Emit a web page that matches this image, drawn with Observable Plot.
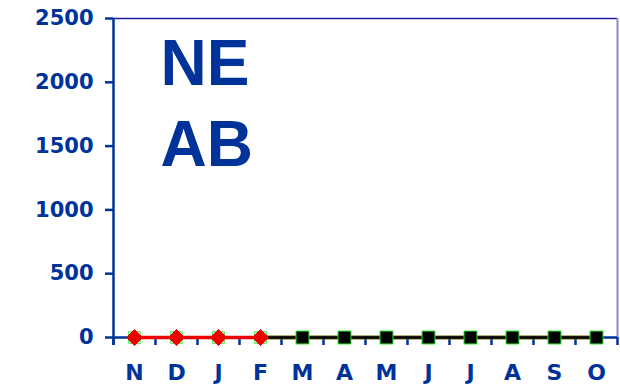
<!DOCTYPE html>
<html><head><meta charset="utf-8">
<script src="https://cdn.jsdelivr.net/npm/d3@7"></script>
<script src="https://cdn.jsdelivr.net/npm/@observablehq/plot@0.6"></script>
<style>
body{margin:0;padding:0;background:#fff;}
#chart svg{display:block;}
</style>
</head><body><div id="chart"></div>
<script>
const months = ["N","D","J","F","M","A","M","J","J","A","S","O"];
const values = [0,0,0,0,0,0,0,0,0,0,0,0];
const redCount = 4; // N..F drawn in red
const yTicks = [0,500,1000,1500,2000,2500];
const titleText = "NE\nAB";

const data = months.map((m,i)=>({i, m, v: values[i]}));
const redPart = data.slice(0, redCount);
const blackPart = data.slice(redCount - 1);
const squarePart = data.slice(redCount);
const betweenTicks = d3.range(-0.5, months.length, 1);
const blue = "#003399";
const axisFont = "DejaVu Sans, sans-serif";

const chart = Plot.plot({
  width: 620, height: 386,
  marginLeft: 113, marginRight: 3, marginTop: 18, marginBottom: 49,
  style: {fontFamily: axisFont, background: "#fff"},
  x: {domain: [-0.5, months.length - 0.5], label: null},
  y: {domain: [0, 2500], label: null},
  marks: [
    Plot.ruleY([2500], {stroke: "#1c1c9c", strokeWidth: 1.5}),
    Plot.ruleX([months.length - 0.5], {stroke: "#8a8ad0", strokeWidth: 2}),
    Plot.ruleY([0], {stroke: blue, strokeWidth: 2.5}),
    Plot.ruleX([-0.5], {y1: 2500, y2: 0, stroke: blue, strokeWidth: 2.5, insetBottom: -8}),
    Plot.axisY({ticks: yTicks, tickSize: 8, tickPadding: 12, stroke: blue, strokeWidth: 2.5,
      fill: blue, fontSize: 21, fontWeight: "bold", letterSpacing: "1px", label: null, tickFormat: d => String(d)}),
    Plot.axisX({ticks: betweenTicks, tickSize: 8, stroke: blue, strokeWidth: 2.5, label: null, tickFormat: () => ""}),
    Plot.axisX({ticks: d3.range(months.length), tickSize: 0, tickPadding: 27, label: null,
      fill: blue, fontSize: 22, fontWeight: "bold", tickFormat: d => months[d]}),
    Plot.line(blackPart, {x: "i", y: "v", stroke: "#6b6b00", strokeWidth: 4}),
    Plot.line(blackPart, {x: "i", y: "v", stroke: "#000", strokeWidth: 2.5}),
    Plot.line(redPart, {x: "i", y: "v", stroke: "#ee0000", strokeWidth: 3.5}),
    Plot.dot(squarePart, {x: "i", y: "v", symbol: "square", r: 7.3, fill: "#000", stroke: "#22ee22", strokeWidth: 1}),
    Plot.dot(redPart, {x: "i", y: "v", symbol: "square", r: 6.5, fill: "none", stroke: "#33dd33", strokeWidth: 1}),
    Plot.dot(redPart, {x: "i", y: "v", symbol: "diamond2", r: 7.2, fill: "#ee0000", stroke: "#ee0000", strokeWidth: 1}),
    Plot.text([titleText], {frameAnchor: "top-left", dx: 47, dy: 9, lineAnchor: "top",
      lineHeight: 1.27, fontSize: 64, fontWeight: "bold", fill: blue,
      fontFamily: "Liberation Sans, Arial, sans-serif"})
  ]
});
document.getElementById("chart").appendChild(chart);
</script>
</body></html>
